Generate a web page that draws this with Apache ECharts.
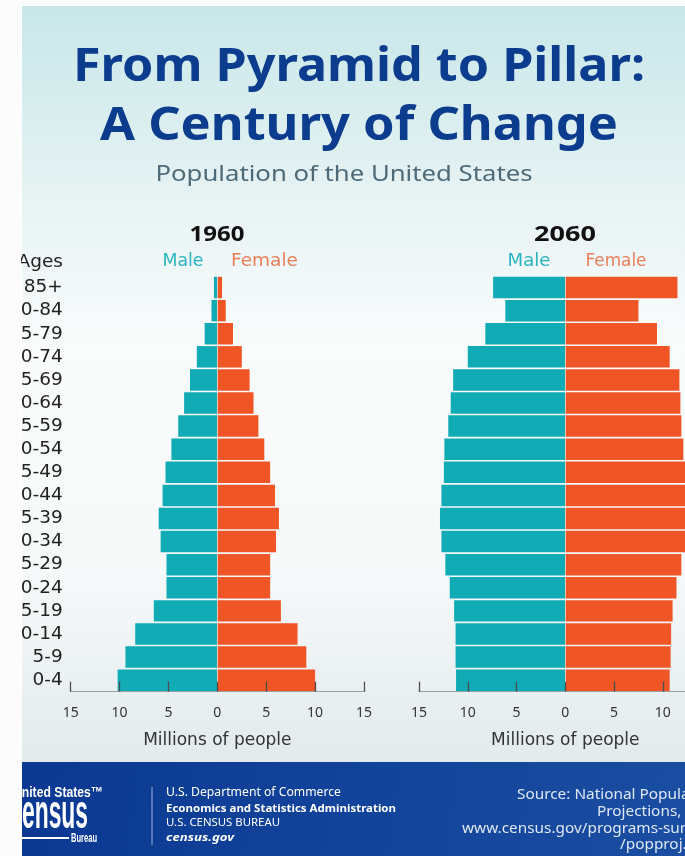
<!DOCTYPE html>
<html>
<head>
<meta charset="utf-8">
<script src="https://cdn.jsdelivr.net/npm/echarts@6/dist/echarts.min.js"></script>
<style>
html,body{margin:0;padding:0;background:#ffffff;}
#chart{width:685px;height:856px;}
</style>
</head>
<body>
<div id="chart"></div>
<script>
// ---- data ----
const ages = ['0-4','5-9','10-14','15-19','20-24','25-29','30-34','35-39','40-44','45-49','50-54','55-59','60-64','65-69','70-74','75-79','80-84','85+'];
const male1960   = [10.2, 9.4, 8.4, 6.5, 5.2, 5.2, 5.8, 6.0, 5.6, 5.3, 4.7, 4.0, 3.4, 2.8, 2.1, 1.3, 0.6, 0.35];
const female1960 = [10.0, 9.1, 8.2, 6.5, 5.4, 5.4, 6.0, 6.3, 5.9, 5.4, 4.8, 4.2, 3.7, 3.3, 2.5, 1.6, 0.86, 0.48];
const male2060   = [11.2, 11.25, 11.25, 11.4, 11.85, 12.3, 12.7, 12.85, 12.7, 12.45, 12.4, 12.0, 11.75, 11.5, 10.0, 8.2, 6.15, 7.4];
const female2060 = [10.7, 10.8, 10.85, 11.0, 11.4, 11.9, 12.4, 12.5, 12.4, 12.3, 12.1, 11.9, 11.8, 11.7, 10.7, 9.4, 7.5, 11.5];
const xTicks = [-15, -10, -5, 0, 5, 10, 15];
const years = ['1960', '2060'];

const FONT = '"Noto Sans", "DejaVu Sans", sans-serif';
const WFONT = '"DejaVu Sans", "Noto Sans", sans-serif';
const LOGO = '"Liberation Sans", "DejaVu Sans", sans-serif';
const TEAL = '#11abb6';
const ORANGE = '#f05526';

const mctx = document.createElement('canvas').getContext('2d');
function fitScale(text, font, width) { mctx.font = font; return width / mctx.measureText(text).width; }

const chart = echarts.init(document.getElementById('chart'), null, {renderer: 'canvas'});

function xAxisFor(idx) {
  return {
    type: 'value', gridIndex: idx, min: xTicks[0], max: xTicks[xTicks.length - 1], interval: 5, z: 5,
    axisLine: {show: true, onZero: false, lineStyle: {color: '#9aa2a5', width: 1.2}},
    axisTick: {show: true, inside: true, length: 10, lineStyle: {color: '#4a4d50', width: 1.3}},
    splitLine: {show: false},
    axisLabel: {formatter: v => String(Math.abs(v)), color: '#333', fontSize: 14, margin: 14, fontFamily: FONT},
    name: 'Millions of people', nameLocation: 'middle', nameGap: 40,
    nameTextStyle: {fontSize: 17, color: '#333', fontFamily: WFONT}
  };
}
function yAxisFor(idx, showLabels) {
  return {
    type: 'category', gridIndex: idx, data: ages,
    axisLine: {show: false, onZero: false}, axisTick: {show: false}, splitLine: {show: false},
    axisLabel: {show: showLabels, interval: 0, color: '#222', fontSize: 18.5, margin: 8, fontFamily: WFONT}
  };
}
function barSeries(idx, values, color, sign, withZeroLine) {
  const s = {
    type: 'bar', xAxisIndex: idx, yAxisIndex: idx,
    data: values.map(v => sign * v),
    barGap: '-100%', barCategoryGap: '7%',
    itemStyle: {color: color},
    silent: true, animation: false
  };
  if (withZeroLine) {
    s.markLine = {
      silent: true, symbol: 'none', label: {show: false},
      lineStyle: {color: 'rgba(255,255,255,0.55)', width: 1, type: 'solid'},
      data: [{xAxis: 0}]
    };
  }
  return s;
}

const gridTop = 276, gridH = 415.7;
// text placed at (x,y); optional horizontal scale
function txt(text, x, y, font, fill, align, scaleX, z) {
  const el = {type: 'text', x: x, y: y, z: z || 50,
    style: {text: text, x: 0, y: 0, font: font, fill: fill, textAlign: align || 'center', textVerticalAlign: 'middle'}};
  if (scaleX) el.scaleX = scaleX;
  return el;
}
function fit(text, x, y, font, fill, align, width, z) {
  return txt(text, x, y, font, fill, align, width ? fitScale(text, font, width) : null, z);
}

const censusFont = 'bold 48px ' + LOGO;
const srcFont = '15px ' + FONT;
const srcScale = fitScale('Source: National Popul', srcFont, 164);

const option = {
  animation: false,
  backgroundColor: '#ffffff',
  grid: [
    {left: 70.7, top: gridTop, width: 293.3, height: gridH, outerBoundsMode: 'none', containLabel: false},
    {left: 419, top: gridTop, width: 292.6, height: gridH, outerBoundsMode: 'none', containLabel: false}
  ],
  xAxis: [xAxisFor(0), xAxisFor(1)],
  yAxis: [yAxisFor(0, true), yAxisFor(1, false)],
  series: [
    barSeries(0, male1960, TEAL, -1, false),
    barSeries(0, female1960, ORANGE, 1, true),
    barSeries(1, male2060, TEAL, -1, false),
    barSeries(1, female2060, ORANGE, 1, true)
  ],
  graphic: [
    // panel background
    {type: 'rect', z: -10, shape: {x: 22, y: 6, width: 663, height: 760},
      style: {fill: {type: 'linear', x: 0, y: 0, x2: 0, y2: 1, colorStops: [
        {offset: 0, color: '#c8e7e9'}, {offset: 0.22, color: '#e3f1f2'}, {offset: 0.45, color: '#fafcfc'},
        {offset: 0.75, color: '#f6f9f9'}, {offset: 1, color: '#e2eaed'}]}}},
    // footer band
    {type: 'rect', z: 60, shape: {x: 22, y: 762, width: 663, height: 94},
      style: {fill: {type: 'linear', x: 0, y: 0, x2: 1, y2: 1, colorStops: [
        {offset: 0, color: '#0a3892'}, {offset: 1, color: '#1a4ea2'}]}}},
    // left outer strip (covers clipped labels)
    {type: 'rect', z: 70, shape: {x: 0, y: 0, width: 21, height: 856}, style: {fill: '#fcfcfc'}},
    {type: 'rect', z: 70, shape: {x: 0, y: 0, width: 685, height: 5}, style: {fill: '#fcfcfc'}},
    // titles
    fit('From Pyramid to Pillar:', 359, 68, 'bold 46px ' + FONT, '#0b3c8e', 'center', 572),
    fit('A Century of Change', 359, 127, 'bold 46px ' + FONT, '#0b3c8e', 'center', 518),
    fit('Population of the United States', 344, 175, '22px ' + FONT, '#4d6a78', 'center', 377),
    // chart headers
    fit(years[0], 217, 235, 'bold 21px ' + FONT, '#111', 'center', 55),
    fit(years[1], 565, 235, 'bold 21px ' + FONT, '#111', 'center', 62),
    fit('Male', 183, 262, '17px ' + WFONT, '#2ab4c0', 'center', 41),
    fit('Female', 264.5, 262, '17px ' + WFONT, '#e9805c', 'center', 67),
    fit('Male', 529, 262, '17px ' + WFONT, '#2ab4c0', 'center', 43),
    fit('Female', 616, 262, '17px ' + WFONT, '#e9805c', 'center', 61),
    txt('Ages', 63, 262, '18.5px ' + WFONT, '#222', 'right'),
    // footer: logo
    fit('United States™', 103, 793, 'bold 15px ' + LOGO, '#fff', 'right', 90, 65),
    txt('Census', 88, 815, censusFont, '#fff', 'right', fitScale('ensus', censusFont, 66), 65),
    {type: 'rect', z: 65, shape: {x: 22, y: 837, width: 47, height: 2}, style: {fill: '#fff'}},
    fit('Bureau', 71, 839, 'bold 12px ' + LOGO, '#fff', 'left', 26, 65),
    {type: 'line', z: 65, shape: {x1: 152, y1: 787, x2: 152, y2: 845}, style: {stroke: 'rgba(255,255,255,0.6)', lineWidth: 1}},
    fit('U.S. Department of Commerce', 166, 793, '12px ' + FONT, '#fff', 'left', 175, 65),
    fit('Economics and Statistics Administration', 166, 809, 'bold 11px ' + FONT, '#fff', 'left', 230, 65),
    fit('U.S. CENSUS BUREAU', 166, 823, '10px ' + FONT, '#fff', 'left', 114, 65),
    fit('census.gov', 166, 838, 'italic bold 11px ' + FONT, '#fff', 'left', 68, 65),
    // footer: source
    txt('Source: National Population', 517, 795, srcFont, '#dfe7f4', 'left', srcScale, 65),
    txt('Projections, 2014', 597, 812, srcFont, '#dfe7f4', 'left', srcScale, 65),
    txt('www.census.gov/programs-surveys', 462, 829, srcFont, '#dfe7f4', 'left', srcScale, 65),
    txt('/popproj.html', 620, 845, srcFont, '#dfe7f4', 'left', srcScale, 65)
  ]
};
chart.setOption(option);
</script>
</body>
</html>
